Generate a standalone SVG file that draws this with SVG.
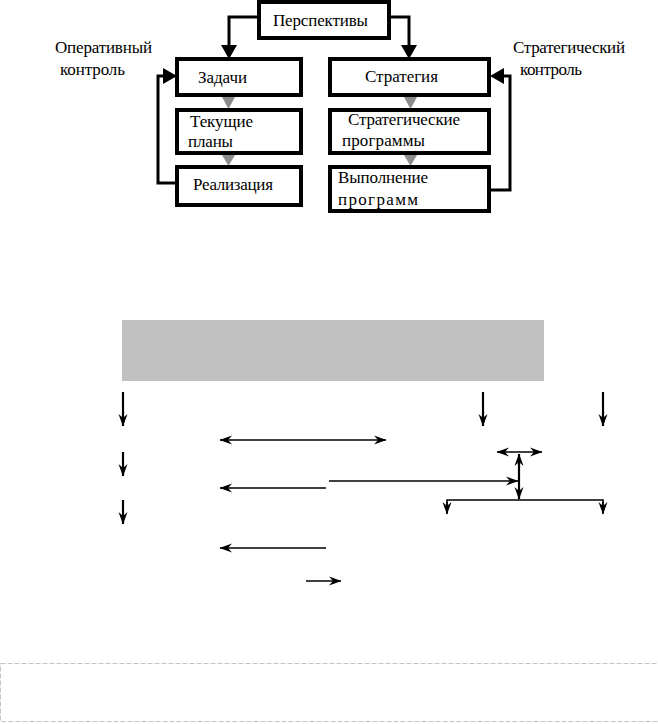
<svg xmlns="http://www.w3.org/2000/svg" width="658" height="724" viewBox="0 0 658 724">
<style>
.box{fill:#fff;stroke:#000;stroke-width:4}
.t{font-family:"Liberation Serif","Times New Roman",serif;font-size:17px;fill:#000}
.cn{fill:none;stroke:#000;stroke-width:3}
.hd{fill:#000}
.gt{fill:#8c8c8c}
.v{fill:none;stroke:#000;stroke-width:2.2}
.h{fill:none;stroke:#000;stroke-width:1.6}
</style>
<defs>
<marker id="ah" markerUnits="userSpaceOnUse" markerWidth="13" markerHeight="10" refX="12" refY="5" orient="auto-start-reverse" viewBox="0 0 13 10">
<path d="M0,0.5 L12.5,5 L0,9.5 L4,5 z" fill="#000"/>
</marker>
</defs>
<rect width="658" height="724" fill="#fff"/>

<g id="connectors">
<polyline class="cn" points="259,17 229,17 229,47"/>
<polygon class="hd" points="221,45 237,45 229,59"/>
<polyline class="cn" points="389,17 409,17 409,47"/>
<polygon class="hd" points="401,45 417,45 409,59"/>
<polyline class="cn" points="177,183 158,183 158,76 164,76"/>
<polygon class="hd" points="163,68 163,84 177,76"/>
<polyline class="cn" points="489,190 510,190 510,76 503,76"/>
<polygon class="hd" points="504,68 504,84 490,76"/>
<polygon class="gt" points="222,97 235,97 228.5,109"/>
<polygon class="gt" points="222,155 235,155 228.5,166"/>
<polygon class="gt" points="404,97 417,97 410.5,109"/>
<polygon class="gt" points="404,155 417,155 410.5,166"/>
</g>

<g id="label-oper">
<text class="t" x="55" y="53" textLength="97" lengthAdjust="spacing">Оперативный</text>
<text class="t" x="60" y="75" textLength="65" lengthAdjust="spacing">контроль</text>
</g>
<g id="label-strat">
<text class="t" x="513" y="53" textLength="112" lengthAdjust="spacing">Стратегический</text>
<text class="t" x="520" y="75" textLength="62" lengthAdjust="spacing">контроль</text>
</g>

<g id="node-perspektivy">
<rect class="box" x="259" y="2" width="130" height="36"/>
<text class="t" x="273" y="26" textLength="95" lengthAdjust="spacing">Перспективы</text>
</g>
<g id="node-zadachi">
<rect class="box" x="177" y="59" width="124" height="36"/>
<text class="t" x="198" y="83" textLength="49" lengthAdjust="spacing">Задачи</text>
</g>
<g id="node-tekushchie">
<rect class="box" x="177" y="110" width="124" height="43"/>
<text class="t" x="190" y="127" textLength="63" lengthAdjust="spacing">Текущие</text>
<text class="t" x="188" y="147" textLength="45" lengthAdjust="spacing">планы</text>
</g>
<g id="node-realizatsiya">
<rect class="box" x="177" y="167" width="124" height="38"/>
<text class="t" x="193" y="190" textLength="80" lengthAdjust="spacing">Реализация</text>
</g>
<g id="node-strategiya">
<rect class="box" x="330" y="59" width="159" height="36"/>
<text class="t" x="365" y="82" textLength="73" lengthAdjust="spacing">Стратегия</text>
</g>
<g id="node-strat-programmy">
<rect class="box" x="330" y="110" width="159" height="43"/>
<text class="t" x="348" y="125" textLength="112" lengthAdjust="spacing">Стратегические</text>
<text class="t" x="342" y="146" textLength="83" lengthAdjust="spacing">программы</text>
</g>
<g id="node-vypolnenie">
<rect class="box" x="330" y="167" width="159" height="44"/>
<text class="t" x="338" y="183" textLength="90" lengthAdjust="spacing">Выполнение</text>
<text class="t" x="338" y="205" textLength="80" lengthAdjust="spacing">программ</text>
</g>

<g id="node-gray-bar">
<rect x="122" y="320" width="422" height="61" fill="#c0c0c0"/>
</g>

<g id="connectors-bottom">
<line class="v" x1="123" y1="392" x2="123" y2="426" marker-end="url(#ah)"/>
<line class="v" x1="483" y1="392" x2="483" y2="426" marker-end="url(#ah)"/>
<line class="v" x1="603" y1="392" x2="603" y2="426" marker-end="url(#ah)"/>
<line class="h" x1="220" y1="440" x2="386" y2="440" marker-start="url(#ah)" marker-end="url(#ah)"/>
<line class="v" x1="123" y1="452" x2="123" y2="476" marker-end="url(#ah)"/>
<line class="v" x1="123" y1="500" x2="123" y2="524" marker-end="url(#ah)"/>
<line class="h" x1="326" y1="488" x2="220" y2="488" marker-end="url(#ah)"/>
<line class="h" x1="329" y1="481" x2="518" y2="481" marker-end="url(#ah)"/>
<line class="h" x1="497" y1="452" x2="542" y2="452" marker-start="url(#ah)" marker-end="url(#ah)"/>
<line class="v" x1="519" y1="454" x2="519" y2="499" marker-start="url(#ah)" marker-end="url(#ah)"/>
<polyline class="h" points="447,513 447,500 603,500 603,513"/>
<line class="h" x1="447" y1="502" x2="447" y2="514" marker-end="url(#ah)"/>
<line class="h" x1="603" y1="502" x2="603" y2="514" marker-end="url(#ah)"/>
<line class="h" x1="326" y1="548" x2="220" y2="548" marker-end="url(#ah)"/>
<line class="h" x1="306" y1="581" x2="341" y2="581" marker-end="url(#ah)"/>
</g>

<g id="node-dashed-frame">
<rect x="0.5" y="663.5" width="660" height="58" fill="none" stroke="#c4c4c4" stroke-width="1" stroke-dasharray="5,2"/>
</g>
</svg>
